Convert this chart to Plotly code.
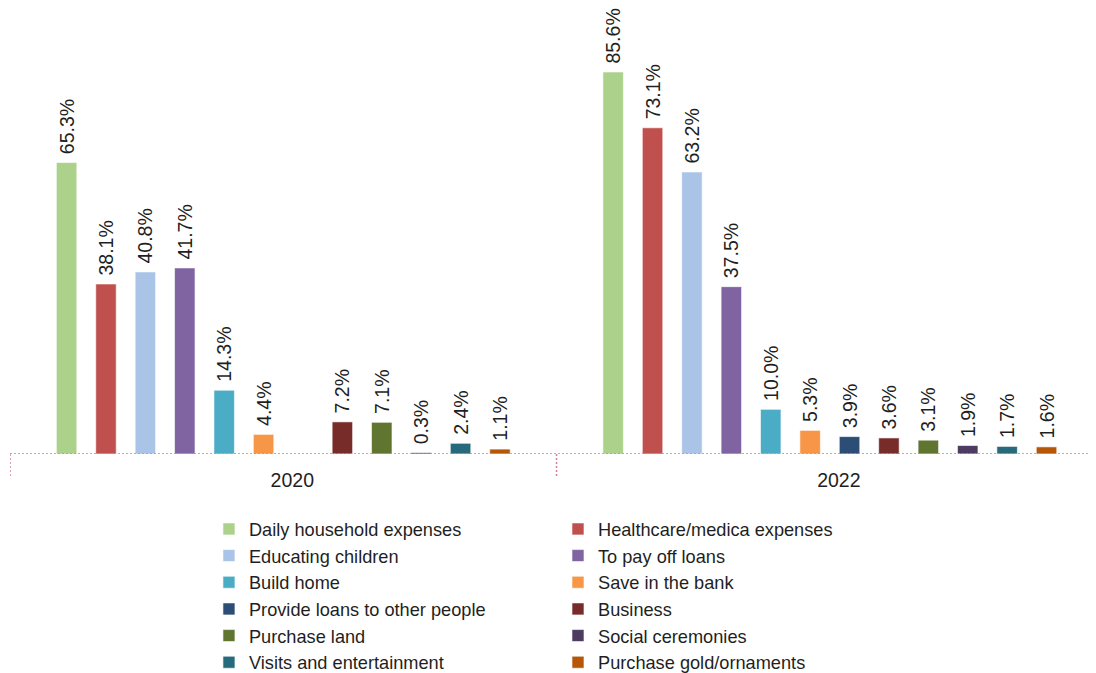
import plotly.graph_objects as go

years = ["2020", "2022"]
series = [
    "Daily household expenses", "Healthcare/medica expenses", "Educating children",
    "To pay off loans", "Build home", "Save in the bank", "Provide loans to other people",
    "Business", "Purchase land", "Social ceremonies", "Visits and entertainment",
    "Purchase gold/ornaments",
]
values_2020 = [65.3, 38.1, 40.8, 41.7, 14.3, 4.4, None, 7.2, 7.1, 0.3, 2.4, 1.1]
values_2022 = [85.6, 73.1, 63.2, 37.5, 10.0, 5.3, 3.9, 3.6, 3.1, 1.9, 1.7, 1.6]
colors = ["#abd18b", "#c0504d", "#aac4e8", "#8064a2", "#4bacc6", "#f79646",
          "#2c4d75", "#772c2a", "#5f7530", "#4d3b62", "#276a7c", "#b65708"]

FONT = "Liberation Sans"
TXT = "#1f1f1f"
fig = go.Figure()
for i, name in enumerate(series):
    ys = [values_2020[i], values_2022[i]]
    txt = ["" if v is None else "\u00a0" + f"{v:.1f}%" for v in ys]
    fig.add_trace(go.Bar(
        x=years, y=ys, name=name, text=txt,
        textposition="outside", textangle=-90, constraintext="none",
        cliponaxis=False,
        textfont=dict(family=FONT, size=19.5, color=TXT),
        marker=dict(color=colors[i], line=dict(color="rgba(255,255,255,0.6)", width=1)),
        legend="legend" if i % 2 == 0 else "legend2",
    ))

axis_color = "#cf7fa3"
# category labels sit slightly right of the bar-group centres in the original
label_shift = 0.0165
# page body has an 8px margin; the figure is sized to compensate
fig.update_layout(
    width=1088, height=665,
    margin=dict(l=2, r=0, t=0, b=219, autoexpand=False),
    plot_bgcolor="white", paper_bgcolor="white",
    barmode="group", bargap=0.135, bargroupgap=0.48,
    font=dict(family=FONT, size=18, color=TXT),
    xaxis=dict(type="category", range=[-0.5, 1.487], showline=False, showgrid=False,
               tickmode="array", tickvals=[k + label_shift for k in range(len(years))],
               ticktext=years,
               ticks="outside", ticklen=9, tickcolor="rgba(0,0,0,0)",
               tickfont=dict(family=FONT, size=19.5, color=TXT)),
    yaxis=dict(range=[0, 99.94], visible=False, showgrid=False, zeroline=False),
    legend=dict(x=0.1832, y=-0.1269, xanchor="left", yanchor="top", orientation="v",
                font=dict(family=FONT, size=18.2, color=TXT), bgcolor="rgba(0,0,0,0)"),
    legend2=dict(x=0.5046, y=-0.1269, xanchor="left", yanchor="top", orientation="v",
                 font=dict(family=FONT, size=18.2, color=TXT), bgcolor="rgba(0,0,0,0)"),
    shapes=[
        dict(type="line", xref="paper", yref="y", x0=0, x1=1, y0=0, y1=0,
             line=dict(color=axis_color, width=1.5, dash="2px,2px")),
        dict(type="line", xref="x", yref="paper", x0=-0.5, x1=-0.5, y0=0, y1=-24/446,
             line=dict(color=axis_color, width=1.5, dash="2px,2px")),
        dict(type="line", xref="x", yref="paper", x0=0.5, x1=0.5, y0=0, y1=-24/446,
             line=dict(color=axis_color, width=1.5, dash="2px,2px")),
    ],
)
fig.write_html("out.html")
